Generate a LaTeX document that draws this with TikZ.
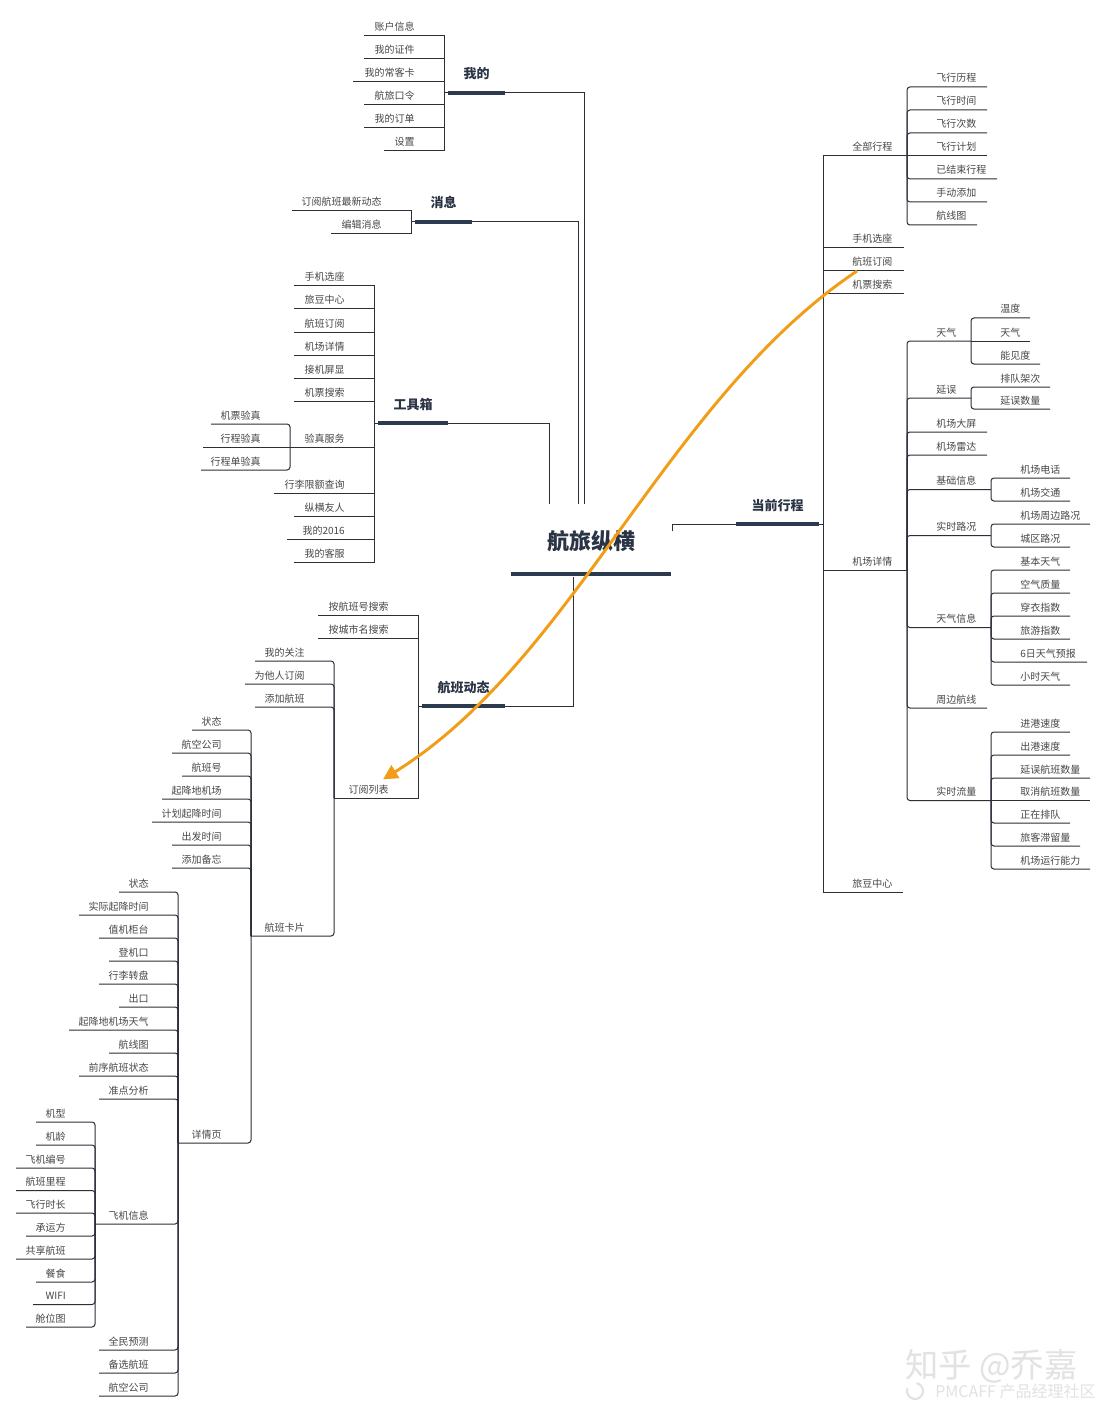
\documentclass[tikz,border=0pt]{standalone}
\usepackage{fontspec}
\newfontfamily\cjk{Noto Sans CJK SC}
\usetikzlibrary{arrows.meta,calc}
\definecolor{lnc}{HTML}{2B2F38}
\definecolor{barc}{HTML}{2C3A4F}
\definecolor{txtc}{HTML}{474747}
\definecolor{headc}{HTML}{2A3444}
\definecolor{orng}{HTML}{F29D17}
\definecolor{wmc}{HTML}{E2E2E2}
\tikzset{
  ln/.style={draw=lnc, line width=0.75pt},
  rc/.style={rounded corners=2.2pt},
  barline/.style={draw=barc, line width=3pt},
  lf/.style={font=\cjk\fontsize{7.5}{9}\selectfont, text=txtc, inner sep=0pt},
  hd/.style={font=\cjk\bfseries\fontsize{9.75}{11}\selectfont, text=headc, inner sep=0pt, anchor=base},
  rootst/.style={font=\cjk\bfseries\fontsize{16.5}{18}\selectfont, text=headc, inner sep=0pt, anchor=base},
  wm/.style={text=wmc, inner sep=0pt, anchor=base west},
}
% left topic: [style]{name}{vertical x (right end)}{y}{left end}{parent y}{text}
\newcommand\LL[7][]{%
  \node[lf,anchor=base east] (#2) at ({#3-29},{#4-5}) {#7};
  \ifdim #4pt=#6pt \draw[ln] (#5,#4) -- (#3,#4);
  \else \draw[ln,#1] (#5,#4) -- (#3,#4) -- (#3,#6); \fi}
% right topic: [style]{name}{vertical x (left end)}{y}{right end}{parent y}{text}
\newcommand\RL[7][]{%
  \node[lf,anchor=base west] (#2) at ({#3+29},{#4-5}) {#7};
  \ifdim #4pt=#6pt \draw[ln] (#3,#4) -- (#5,#4);
  \else \draw[ln,#1] (#5,#4) -- (#3,#4) -- (#3,#6); \fi}
\begin{document}
\begin{tikzpicture}[x=0.75pt,y=-0.75pt]
\fill[white] (0,0) rectangle (1106,1412);
\useasboundingbox (0,0) rectangle (1106,1412);

% ---------- root ----------
\node[rootst] (root) at (591,549) {航旅纵横};
\draw[barline, line width=3.2pt] (511,574) -- (671,574);

% ---------- main topics ----------
\node[hd] (wode) at (476.5,79) {我的};
\draw[barline] (448,93) -- (505,93);
\node[hd] (xiaoxi) at (443.5,208) {消息};
\draw[barline] (415,222) -- (472,222);
\node[hd] (gjx) at (413,409) {工具箱};
\draw[barline] (378,423) -- (448,423);
\node[hd] (hbdt) at (463.5,692) {航班动态};
\draw[barline] (422,706) -- (505,706);
\node[hd] (dqxc) at (777.5,510) {当前行程};
\draw[barline] (736,524) -- (819,524);

% root connectors
\draw[ln] (584,504) -- (584,93) -- (505,93);
\draw[ln] (578,504) -- (578,222) -- (472,222);
\draw[ln] (549,504) -- (549,423) -- (448,423);
\draw[ln] (573,577) -- (573,706) -- (505,706);
\draw[ln] (672,531) -- (672,524) -- (736,524);

% bar -> children verticals
\draw[ln] (448,93) -- (444,93);
\draw[ln] (415,222) -- (411,222);
\draw[ln] (378,423) -- (374,423);
\draw[ln] (422,706) -- (418,706);
\draw[ln] (819,524) -- (823,524);

% ---------- 我的 ----------
\LL{m1}{444}{36}{364}{93}{账户信息}
\LL{m2}{444}{59}{364}{93}{我的证件}
\LL{m3}{444}{82}{353}{93}{我的常客卡}
\LL{m4}{444}{105}{364}{93}{航旅口令}
\LL{m5}{444}{128}{364}{93}{我的订单}
\LL{m6}{444}{151}{384}{93}{设置}

% ---------- 消息 ----------
\LL{x1}{411}{211}{292}{222}{订阅航班最新动态}
\LL{x2}{411}{234}{331}{222}{编辑消息}

% ---------- 工具箱 ----------
\LL{t1}{374}{286}{294}{423}{手机选座}
\LL{t2}{374}{309}{294}{423}{旅豆中心}
\LL{t3}{374}{332}{294}{423}{航班订阅}
\LL{t4}{374}{355}{294}{423}{机场详情}
\LL{t5}{374}{378}{294}{423}{接机屏显}
\LL{t6}{374}{401}{294}{423}{机票搜索}
\LL{t7}{374}{447}{290}{423}{验真服务}
\LL{t8}{374}{493}{274}{423}{行李限额查询}
\LL{t9}{374}{516}{294}{423}{纵横友人}
\LL{t10}{374}{539}{287}{423}{我的2016}
\LL{t11}{374}{562}{294}{423}{我的客服}
\LL[rc]{v1}{290}{424}{211}{447}{机票验真}
\LL[rc]{v2}{290}{447}{203}{447}{行程验真}
\LL[rc]{v3}{290}{470}{201}{447}{行程单验真}

% ---------- 航班动态 ----------
\LL{d1}{418}{615}{318}{706}{按航班号搜索}
\LL{d2}{418}{638}{318}{706}{按城市名搜索}
\LL{d3}{418}{798}{334}{706}{订阅列表}

\LL[rc]{s1}{334}{661}{255}{798}{我的关注}
\LL[rc]{s2}{334}{684}{245}{798}{为他人订阅}
\LL[rc]{s3}{334}{707}{255}{798}{添加航班}
\LL[rc]{s4}{334}{936}{251}{798}{航班卡片}

\LL[rc]{k1}{251}{730}{192}{936}{状态}
\LL[rc]{k2}{251}{753}{172}{936}{航空公司}
\LL[rc]{k3}{251}{776}{182}{936}{航班号}
\LL[rc]{k4}{251}{799}{162}{936}{起降地机场}
\LL[rc]{k5}{251}{822}{152}{936}{计划起降时间}
\LL[rc]{k6}{251}{845}{172}{936}{出发时间}
\LL[rc]{k7}{251}{868}{172}{936}{添加备忘}
\LL[rc]{k8}{251}{1143}{178}{936}{详情页}

\LL[rc]{p1}{178}{892}{119}{1143}{状态}
\LL[rc]{p2}{178}{915}{79}{1143}{实际起降时间}
\LL[rc]{p3}{178}{938}{99}{1143}{值机柜台}
\LL[rc]{p4}{178}{961}{109}{1143}{登机口}
\LL[rc]{p5}{178}{984}{99}{1143}{行李转盘}
\LL[rc]{p6}{178}{1007}{119}{1143}{出口}
\LL[rc]{p7}{178}{1030}{69}{1143}{起降地机场天气}
\LL[rc]{p8}{178}{1053}{109}{1143}{航线图}
\LL[rc]{p9}{178}{1076}{79}{1143}{前序航班状态}
\LL[rc]{p10}{178}{1099}{99}{1143}{准点分析}
\LL[rc]{p11}{178}{1224}{95}{1143}{飞机信息}
\LL[rc]{p12}{178}{1350}{99}{1143}{全民预测}
\LL[rc]{p13}{178}{1373}{99}{1143}{备选航班}
\LL[rc]{p14}{178}{1396}{99}{1143}{航空公司}

\LL[rc]{f1}{95}{1122}{36}{1224}{机型}
\LL[rc]{f2}{95}{1145}{36}{1224}{机龄}
\LL[rc]{f3}{95}{1168}{16}{1224}{飞机编号}
\LL[rc]{f4}{95}{1190.5}{16}{1224}{航班里程}
\LL[rc]{f5}{95}{1213}{16}{1224}{飞行时长}
\LL[rc]{f6}{95}{1236}{26}{1224}{承运方}
\LL[rc]{f7}{95}{1259}{16}{1224}{共享航班}
\LL[rc]{f8}{95}{1282}{36}{1224}{餐食}
\LL[rc]{f9}{95}{1304.5}{33}{1224}{WIFI}
\LL[rc]{f10}{95}{1327}{26}{1224}{舱位图}

% ---------- 当前行程 ----------
\RL{c1}{823}{156}{907}{524}{全部行程}
\RL{c2}{823}{248}{904}{524}{手机选座}
\RL{c3}{823}{271}{904}{524}{航班订阅}
\RL{c4}{823}{294}{904}{524}{机票搜索}
\RL{c5}{823}{570}{907}{524}{机场详情}
\RL{c6}{823}{892}{903}{524}{旅豆中心}

\RL[rc]{a1}{907}{87}{987}{156}{飞行历程}
\RL[rc]{a2}{907}{110}{987}{156}{飞行时间}
\RL[rc]{a3}{907}{133}{987}{156}{飞行次数}
\RL[rc]{a4}{907}{156}{987}{156}{飞行计划}
\RL[rc]{a5}{907}{179}{997}{156}{已结束行程}
\RL[rc]{a6}{907}{202}{987}{156}{手动添加}
\RL[rc]{a7}{907}{225}{977}{156}{航线图}

\RL[rc]{e1}{907}{341}{971}{570}{天气}
\RL[rc]{e2}{907}{398}{971}{570}{延误}
\RL[rc]{e3}{907}{432}{987}{570}{机场大屏}
\RL[rc]{e4}{907}{455}{987}{570}{机场雷达}
\RL[rc]{e5}{907}{489.5}{991}{570}{基础信息}
\RL[rc]{e6}{907}{535.5}{991}{570}{实时路况}
\RL[rc]{e7}{907}{627.5}{991}{570}{天气信息}
\RL[rc]{e8}{907}{708}{987}{570}{周边航线}
\RL[rc]{e9}{907}{800.5}{991}{570}{实时流量}

\RL[rc]{w1}{971}{318}{1030}{341}{温度}
\RL[rc]{w2}{971}{341}{1030}{341}{天气}
\RL[rc]{w3}{971}{364}{1040}{341}{能见度}

\RL[rc]{y1}{971}{387}{1050}{398}{排队架次}
\RL[rc]{y2}{971}{409}{1050}{398}{延误数量}

\RL[rc]{b1}{991}{478}{1070}{489.5}{机场电话}
\RL[rc]{b2}{991}{501}{1070}{489.5}{机场交通}

\RL[rc]{l1}{991}{524}{1090}{535.5}{机场周边路况}
\RL[rc]{l2}{991}{547}{1070}{535.5}{城区路况}

\RL[rc]{q1}{991}{570}{1070}{627.5}{基本天气}
\RL[rc]{q2}{991}{593}{1070}{627.5}{空气质量}
\RL[rc]{q3}{991}{616}{1070}{627.5}{穿衣指数}
\RL[rc]{q4}{991}{639}{1070}{627.5}{旅游指数}
\RL[rc]{q5}{991}{662}{1087}{627.5}{6日天气预报}
\RL[rc]{q6}{991}{685}{1070}{627.5}{小时天气}

\RL[rc]{g1}{991}{732}{1070}{800.5}{进港速度}
\RL[rc]{g2}{991}{755}{1070}{800.5}{出港速度}
\RL[rc]{g3}{991}{778}{1090}{800.5}{延误航班数量}
\RL[rc]{g4}{991}{800.5}{1090}{800.5}{取消航班数量}
\RL[rc]{g5}{991}{823}{1070}{800.5}{正在排队}
\RL[rc]{g6}{991}{846}{1080}{800.5}{旅客滞留量}
\RL[rc]{g7}{991}{869}{1090}{800.5}{机场运行能力}

% ---------- orange link ----------
\draw[orng, line width=2.2pt, -{Triangle[length=11pt,width=11pt]}]
  ($(c3.base west)+(5,5)$) .. controls (665,400) and (575,660) .. ($(d3.north east)+(-6,-5)$);

% ---------- watermark ----------
\node[wm, font=\cjk\fontsize{25}{27}\selectfont] (wm1) at (905,1377) {知乎 @乔嘉};
\node[wm, font=\cjk\fontsize{12}{14}\selectfont] (wm2) at (935,1397) {PMCAFF 产品经理社区};
\draw[wmc, line width=1.6pt] (915,1391) ++(80:6pt) arc[start angle=80, end angle=-200, radius=6pt];
\end{tikzpicture}
\end{document}
